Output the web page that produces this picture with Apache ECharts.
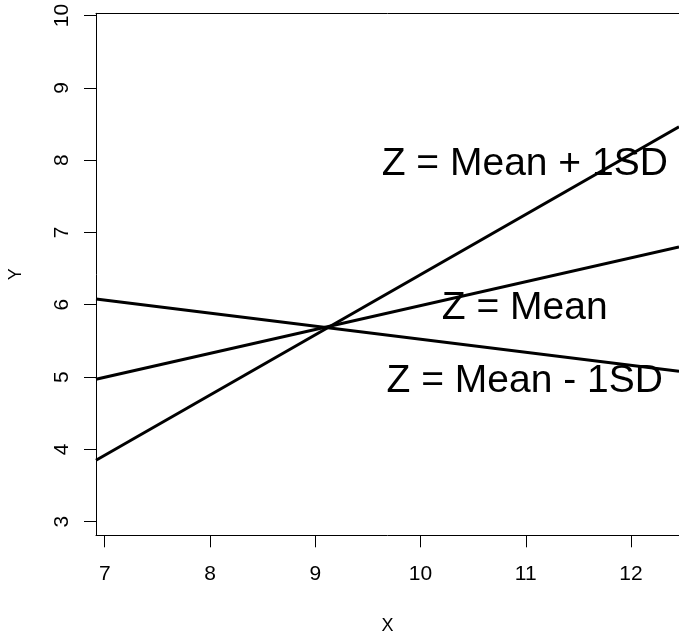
<!DOCTYPE html>
<html>
<head>
<meta charset="utf-8">
<script src="https://cdn.jsdelivr.net/npm/echarts@6/dist/echarts.min.js"></script>
<style>
  html, body { margin: 0; padding: 0; background: #fff; }
  #chart { width: 679px; height: 636px; }
</style>
</head>
<body>
<div id="chart"></div>
<script>
// Simple slopes of Y on X at three levels of the moderator Z
const lineNames = ['Z = Mean + 1SD', 'Z = Mean', 'Z = Mean - 1SD'];
const xStart = 6.917;
const xEnd = 12.456;
const yAtStart = [3.85, 4.97, 6.08];
const yAtEnd = [8.46, 6.80, 5.08];

// Text annotations placed in data coordinates
const labelTexts = ['Z = Mean + 1SD', 'Z = Mean', 'Z = Mean - 1SD'];
const labelX = [11, 11, 11];
const labelY = [8, 6, 5];

// Axis ticks
const xTicks = [7, 8, 9, 10, 11, 12];
const yTicks = [3, 4, 5, 6, 7, 8, 9, 10];
const xRange = [6.917, 12.456];
const yRange = [2.812, 10.03];

const FONT = '"Liberation Sans", Arial, Helvetica, sans-serif';
const frameLine = { show: true, lineStyle: { color: '#000', width: 1 } };

const lineSeries = lineNames.map((name, i) => ({
  name: name,
  type: 'line',
  data: [[xStart, yAtStart[i]], [xEnd, yAtEnd[i]]],
  symbol: 'none',
  clip: true,
  lineStyle: { color: '#000', width: 3, cap: 'butt' },
  z: 3
}));

const textSeries = {
  type: 'scatter',
  symbolSize: 0,
  silent: true,
  itemStyle: { opacity: 1 },
  data: labelTexts.map((t, i) => ({ name: t, value: [labelX[i], labelY[i]] })),
  label: {
    show: true,
    position: 'inside',
    offset: [-1, 4],
    formatter: '{b}',
    color: '#000',
    opacity: 1,
    fontFamily: FONT,
    fontSize: 39
  },
  z: 2
};

const chart = echarts.init(document.getElementById('chart'), null, { renderer: 'canvas' });
chart.setOption({
  animation: false,
  backgroundColor: '#fff',
  grid: {
    left: 96, top: 13.3, right: 0, bottom: 100.7,
    show: false, containLabel: false, outerBoundsMode: 'none'
  },
  xAxis: [{
    type: 'value',
    position: 'bottom',
    min: xRange[0], max: xRange[1],
    name: 'X',
    nameLocation: 'middle',
    nameGap: 82,
    nameTextStyle: { color: '#000', fontFamily: FONT, fontSize: 18 },
    axisLine: frameLine,
    splitLine: { show: false },
    axisTick: {
      show: true, inside: false, length: 12,
      customValues: xTicks,
      lineStyle: { color: '#000', width: 1 }
    },
    axisLabel: {
      show: true, margin: 28,
      customValues: xTicks,
      color: '#000', fontFamily: FONT, fontSize: 21
    }
  }, {
    // top edge of the plot frame
    type: 'value',
    position: 'top',
    min: xRange[0], max: xRange[1],
    axisLine: frameLine,
    axisTick: { show: false },
    axisLabel: { show: false },
    splitLine: { show: false }
  }],
  yAxis: {
    type: 'value',
    min: yRange[0], max: yRange[1],
    name: 'Y',
    nameLocation: 'middle',
    nameGap: 71,
    nameRotate: 90,
    nameTextStyle: { color: '#000', fontFamily: FONT, fontSize: 18 },
    axisLine: frameLine,
    splitLine: { show: false },
    axisTick: {
      show: true, inside: false, length: 12,
      customValues: yTicks,
      lineStyle: { color: '#000', width: 1 }
    },
    axisLabel: {
      show: true, margin: 23, rotate: 90,
      customValues: yTicks,
      color: '#000', fontFamily: FONT, fontSize: 21
    }
  },
  series: [...lineSeries, textSeries]
});
</script>
</body>
</html>
